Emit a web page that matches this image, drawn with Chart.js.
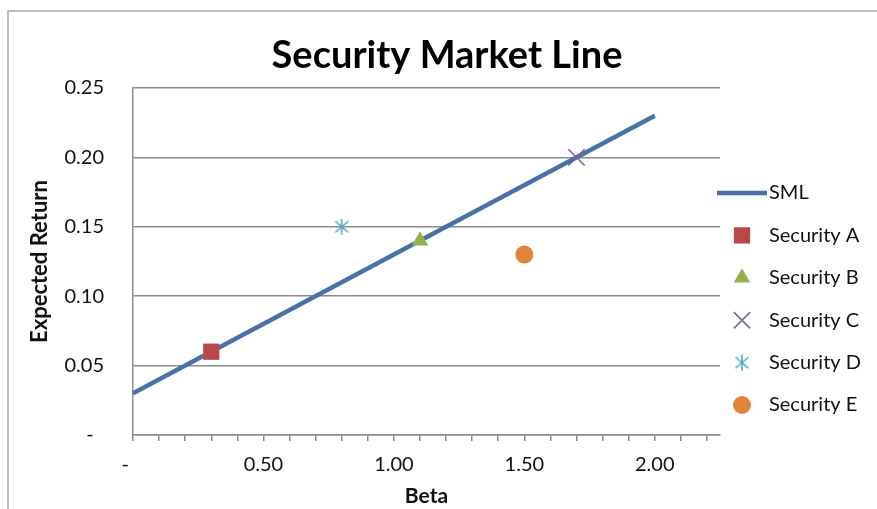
<!DOCTYPE html>
<html>
<head>
<meta charset="utf-8">
<title>Security Market Line</title>
<script src="https://cdn.jsdelivr.net/npm/chart.js@4/dist/chart.umd.min.js"></script>
<style>
  html, body { margin: 0; padding: 0; background: #fff; }
  canvas { display: block; }
</style>
</head>
<body>
<canvas id="smlChart" width="877" height="509"></canvas>
<script>
// SML end points (beta, expected return)
var smlBeta = [0, 2.0];
var smlReturn = [0.03, 0.23];

// individual securities
var securityNames = ['Security A', 'Security B', 'Security C', 'Security D', 'Security E'];
var securityBeta = [0.3, 1.1, 1.7, 0.8, 1.5];
var securityReturn = [0.06, 0.14, 0.20, 0.15, 0.13];

// axis ticks
var betaTicks = [0, 0.1, 0.2, 0.3, 0.4, 0.5, 0.6, 0.7, 0.8, 0.9, 1, 1.1, 1.2, 1.3, 1.4, 1.5, 1.6, 1.7, 1.8, 1.9, 2, 2.1, 2.2];
var betaLabels = { 0: '-   ', 0.5: '0.50', 1: '1.00', 1.5: '1.50', 2: '2.00' };
var returnTicks = [0, 0.05, 0.1, 0.15, 0.2, 0.25];
var returnLabels = ['-  ', '0.05', '0.10', '0.15', '0.20', '0.25'];

var chartTitle = 'Security Market Line';

var FONT = 'Lato, "Open Sans", sans-serif';
var TEXT = '#111';
var AXIS = '#8c8c8c';

// asterisk marker: vertical bar plus an X
function makeAsterisk(color) {
    var c = document.createElement('canvas');
    c.width = 18; c.height = 18;
    var g = c.getContext('2d');
    g.strokeStyle = color;
    g.lineWidth = 1.6;
    g.beginPath();
    g.moveTo(9, 1); g.lineTo(9, 17);
    g.moveTo(2.5, 3.5); g.lineTo(15.5, 14.5);
    g.moveTo(15.5, 3.5); g.lineTo(2.5, 14.5);
    g.stroke();
    return c;
}

var markerStyles = [
    { pointStyle: 'rect', radius: 11.5, color: '#b8484a', borderWidth: 0 },
    { pointStyle: 'triangle', radius: 9.5, color: '#93b24f', borderWidth: 0 },
    { pointStyle: 'crossRot', radius: 11.5, color: '#7d60a0', borderWidth: 1.6 },
    { pointStyle: makeAsterisk('#4aa9c3'), radius: 9, color: '#4aa9c3', borderWidth: 1.6 },
    { pointStyle: 'circle', radius: 9, color: '#e0843a', borderWidth: 0 }
];

var datasets = [{
    label: 'SML',
    data: smlBeta.map(function (b, i) { return { x: b, y: smlReturn[i] }; }),
    showLine: true,
    borderColor: '#4672a8',
    backgroundColor: '#4672a8',
    borderWidth: 4.5,
    pointRadius: 0,
    order: 1
}];

securityNames.forEach(function (name, i) {
    var m = markerStyles[i];
    datasets.push({
        label: name,
        data: [{ x: securityBeta[i], y: securityReturn[i] }],
        pointStyle: m.pointStyle,
        pointRadius: m.radius,
        pointBackgroundColor: m.color,
        pointBorderColor: m.color,
        pointBorderWidth: m.borderWidth,
        order: 0
    });
});

// frame around the whole chart object, plus the centred title
var framePlugin = {
    id: 'frame',
    beforeDraw: function (chart) {
        var ctx = chart.ctx;
        ctx.save();
        ctx.strokeStyle = '#bdbdbd';
        ctx.lineWidth = 2;
        ctx.beginPath();
        ctx.moveTo(8, chart.height);
        ctx.lineTo(8, 11);
        ctx.lineTo(chart.width, 11);
        ctx.stroke();

        ctx.fillStyle = '#000';
        ctx.font = 'bold 38px ' + FONT;
        ctx.textAlign = 'center';
        ctx.textBaseline = 'middle';
        ctx.fillText(chartTitle, 447, 56);
        ctx.restore();
    }
};

// legend on the right side
var sideLegend = {
    id: 'sideLegend',
    afterDraw: function (chart) {
        var ctx = chart.ctx;
        var x0 = 717, textX = 769, y0 = 193, step = 42.4;
        ctx.save();
        ctx.font = '20px ' + FONT;
        ctx.textBaseline = 'middle';
        ctx.textAlign = 'left';
        chart.data.datasets.forEach(function (ds, i) {
            var y = y0 + i * step;
            if (i === 0) {
                ctx.strokeStyle = ds.borderColor;
                ctx.lineWidth = ds.borderWidth;
                ctx.beginPath();
                ctx.moveTo(x0, y);
                ctx.lineTo(x0 + 50, y);
                ctx.stroke();
            } else {
                ctx.fillStyle = ds.pointBackgroundColor;
                ctx.strokeStyle = ds.pointBorderColor;
                ctx.lineWidth = ds.pointBorderWidth;
                Chart.helpers.drawPoint(ctx, {
                    pointStyle: ds.pointStyle,
                    radius: ds.pointRadius,
                    rotation: 0,
                    borderWidth: ds.pointBorderWidth
                }, x0 + 25, y);
            }
            ctx.fillStyle = TEXT;
            ctx.fillText(ds.label, textX, y);
        });
        ctx.restore();
    }
};

new Chart(document.getElementById('smlChart'), {
    type: 'scatter',
    data: { datasets: datasets },
    options: {
        responsive: false,
        animation: false,
        devicePixelRatio: 1,
        layout: { padding: { left: 27, right: 157, top: 88, bottom: 0 } },
        plugins: {
            legend: { display: false },
            tooltip: { enabled: false },
            title: { display: false }
        },
        scales: {
            x: {
                type: 'linear',
                min: 0,
                max: 2.25,
                afterBuildTicks: function (scale) {
                    scale.ticks = betaTicks.map(function (v) { return { value: v }; });
                },
                afterFit: function (scale) { scale.height = 74; },
                ticks: {
                    autoSkip: false,
                    maxRotation: 0,
                    padding: 12,
                    color: TEXT,
                    font: { family: FONT, size: 20 },
                    callback: function (value) {
                        return betaLabels[value] !== undefined ? betaLabels[value] : '';
                    }
                },
                grid: { drawOnChartArea: false, drawTicks: true, tickLength: 6, color: AXIS, lineWidth: 1.5 },
                border: { display: true, color: AXIS, width: 1.5 },
                title: {
                    display: true,
                    text: 'Beta',
                    color: TEXT,
                    font: { family: FONT, size: 21, weight: 'bold' },
                    padding: { top: 0, bottom: 0 }
                }
            },
            y: {
                type: 'linear',
                min: 0,
                max: 0.25,
                afterBuildTicks: function (scale) {
                    scale.ticks = returnTicks.map(function (v) { return { value: v }; });
                },
                afterFit: function (scale) { scale.width = 106; },
                ticks: {
                    padding: 29,
                    color: TEXT,
                    font: { family: FONT, size: 20 },
                    callback: function (value, index) { return returnLabels[index]; }
                },
                grid: { drawTicks: false, color: AXIS, lineWidth: 1.5 },
                border: { display: true, color: AXIS, width: 1.5 },
                title: {
                    display: true,
                    text: 'Expected Return',
                    color: TEXT,
                    font: { family: FONT, size: 22, weight: 'bold' },
                    padding: { top: 0, bottom: 0 }
                }
            }
        }
    },
    plugins: [framePlugin, sideLegend]
});
</script>
</body>
</html>
